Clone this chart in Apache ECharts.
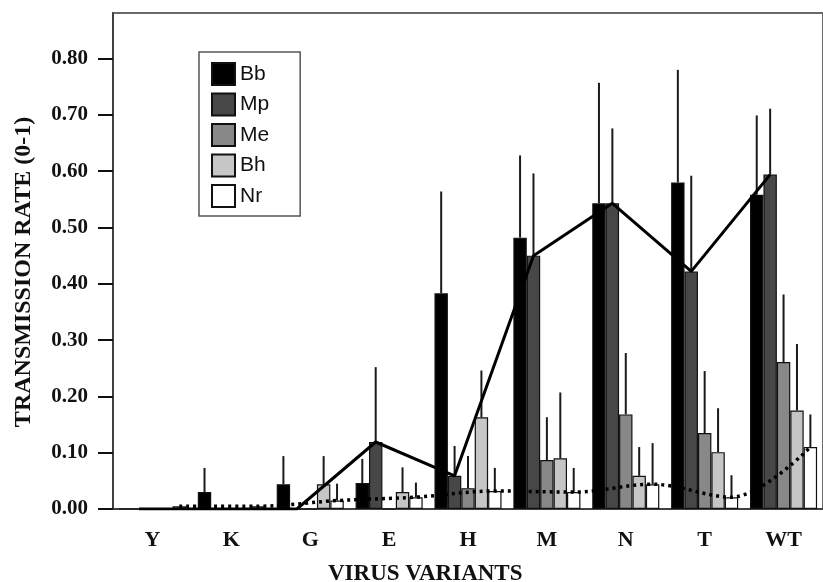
<!DOCTYPE html>
<html>
<head>
<meta charset="utf-8">
<script src="https://cdn.jsdelivr.net/npm/echarts@6/dist/echarts.min.js"></script>
<style>
  html, body { margin: 0; padding: 0; background: #fff; }
  #chart { width: 823px; height: 582px; }
</style>
</head>
<body>
<div id="chart"></div>
<script>
// ---- data ----
const categories = ['Y', 'K', 'G', 'E', 'H', 'M', 'N', 'T', 'WT'];
const seriesNames = ['Bb', 'Mp', 'Me', 'Bh', 'Nr'];
const Bb = [0, 0.030, 0.044, 0.046, 0.383, 0.482, 0.543, 0.580, 0.558];
const Mp = [0, 0, 0, 0.119, 0.059, 0.450, 0.543, 0.422, 0.594];
const Me = [0, 0, 0, 0, 0.037, 0.087, 0.168, 0.135, 0.261];
const Bh = [0, 0, 0.044, 0.030, 0.163, 0.090, 0.059, 0.101, 0.175];
const Nr = [0.005, 0.005, 0.015, 0.021, 0.032, 0.030, 0.044, 0.021, 0.110];
// upper ends of the error bars
const BbUpper = [null, 0.073, 0.094, 0.089, 0.564, 0.628, 0.757, 0.780, 0.699];
const MpUpper = [null, null, null, 0.252, 0.112, 0.596, 0.676, 0.592, 0.711];
const MeUpper = [null, null, null, null, 0.094, 0.163, 0.277, 0.245, 0.381];
const BhUpper = [null, null, 0.094, 0.074, 0.246, 0.207, 0.110, 0.179, 0.293];
const NrUpper = [null, null, 0.045, 0.047, 0.073, 0.073, 0.117, 0.060, 0.168];
const yTicks = [0, 0.1, 0.2, 0.3, 0.4, 0.5, 0.6, 0.7, 0.8];

// ---- styling / layout ----
const colors = ['#000000', '#474747', '#888888', '#c6c6c6', '#ffffff'];
const values = [Bb, Mp, Me, Bh, Nr];
const uppers = [BbUpper, MpUpper, MeUpper, BhUpper, NrUpper];
const CAT_GAP = 0.15;
const BAR_FRAC = (1 - CAT_GAP) / 5;
const offsetOf = k => (k - 2) * BAR_FRAC; // in band units
const serif = "'Liberation Serif', 'Times New Roman', serif";
const sans = "'Liberation Sans', Arial, sans-serif";

const series = [];
values.forEach((vals, k) => {
  series.push({
    name: seriesNames[k],
    type: 'bar',
    data: vals,
    barGap: '0%',
    barCategoryGap: (CAT_GAP * 100) + '%',
    itemStyle: { color: colors[k], borderColor: '#111', borderWidth: 1.2 },
    z: 2
  });
});
values.forEach((vals, k) => {
  const data = [];
  vals.forEach((v, i) => { if (uppers[k][i] != null) data.push([i, v, uppers[k][i]]); });
  const off = offsetOf(k);
  series.push({
    name: seriesNames[k] + ' error',
    type: 'custom',
    data: data,
    z: 3,
    silent: true,
    renderItem: function (params, api) {
      const base = api.coord([api.value(0), api.value(1)]);
      const top = api.coord([api.value(0), api.value(2)]);
      const bw = api.size([1, 0])[0];
      const x = base[0] + off * bw;
      return {
        type: 'line',
        shape: { x1: x, y1: base[1], x2: x, y2: top[1] },
        style: { stroke: '#1a1a1a', lineWidth: 2 }
      };
    }
  });
});
// Mp connected by a solid line, Nr by a dotted smooth line (at their bar positions)
series.push({
  name: 'Mp line',
  type: 'line',
  xAxisIndex: 1,
  data: Mp.map((v, i) => [i + 0.5 + offsetOf(1), v]),
  symbol: 'none',
  lineStyle: { color: '#000', width: 3 },
  z: 5,
  silent: true
});
series.push({
  name: 'Nr line',
  type: 'line',
  xAxisIndex: 1,
  data: Nr.map((v, i) => [i + 0.5 + offsetOf(4), v]),
  symbol: 'none',
  smooth: 0.35,
  lineStyle: { color: '#000', width: 3.5, type: [3, 4] },
  z: 5,
  silent: true
});

const chart = echarts.init(document.getElementById('chart'), null, { renderer: 'canvas' });
chart.setOption({
  animation: false,
  backgroundColor: '#fff',
  grid: {
    left: 113, top: 13, width: 718, height: 496,
    show: true, borderColor: '#6a6a6a', borderWidth: 2, backgroundColor: 'transparent'
  },
  legend: {
    data: seriesNames,
    orient: 'vertical',
    left: 199, top: 52,
    padding: [10, 31, 8, 12],
    itemWidth: 23, itemHeight: 22, itemGap: 6.5,
    icon: 'rect',
    borderColor: '#555', borderWidth: 1.5,
    textStyle: { fontFamily: sans, fontSize: 21, color: '#111', lineHeight: 22 },
    selectedMode: false
  },
  xAxis: [{
    type: 'category',
    data: categories,
    boundaryGap: true,
    axisLine: { lineStyle: { color: '#333', width: 1.5 } },
    axisTick: { alignWithLabel: true, length: 9, lineStyle: { color: '#111', width: 2 } },
    axisLabel: { fontFamily: serif, fontWeight: 'bold', fontSize: 22, color: '#111', margin: 20 },
    splitLine: { show: false }
  }, {
    type: 'value',
    min: 0, max: categories.length,
    show: false
  }],
  yAxis: {
    type: 'value',
    min: 0, max: 0.881,
    axisLine: { show: true, lineStyle: { color: '#333', width: 1.5 } },
    axisTick: { show: true, customValues: yTicks, length: 15, lineStyle: { color: '#111', width: 2 } },
    axisLabel: {
      customValues: yTicks,
      formatter: v => v.toFixed(2),
      fontFamily: serif, fontWeight: 'bold', fontSize: 21, color: '#111', margin: 25
    },
    splitLine: { show: false }
  },
  graphic: [{
    type: 'text',
    left: 438 - 110, top: 563,
    style: {
      text: 'VIRUS VARIANTS', fontFamily: serif, fontWeight: 'bold', fontSize: 23, fill: '#111',
      width: 220, align: 'center'
    }
  }, {
    type: 'text',
    x: 24, y: 272,
    rotation: Math.PI / 2,
    style: {
      text: 'TRANSMISSION RATE (0-1)', fontFamily: serif, fontWeight: 'bold', fontSize: 24, fill: '#111',
      align: 'center', verticalAlign: 'middle'
    }
  }],
  series: series
});
</script>
</body>
</html>
